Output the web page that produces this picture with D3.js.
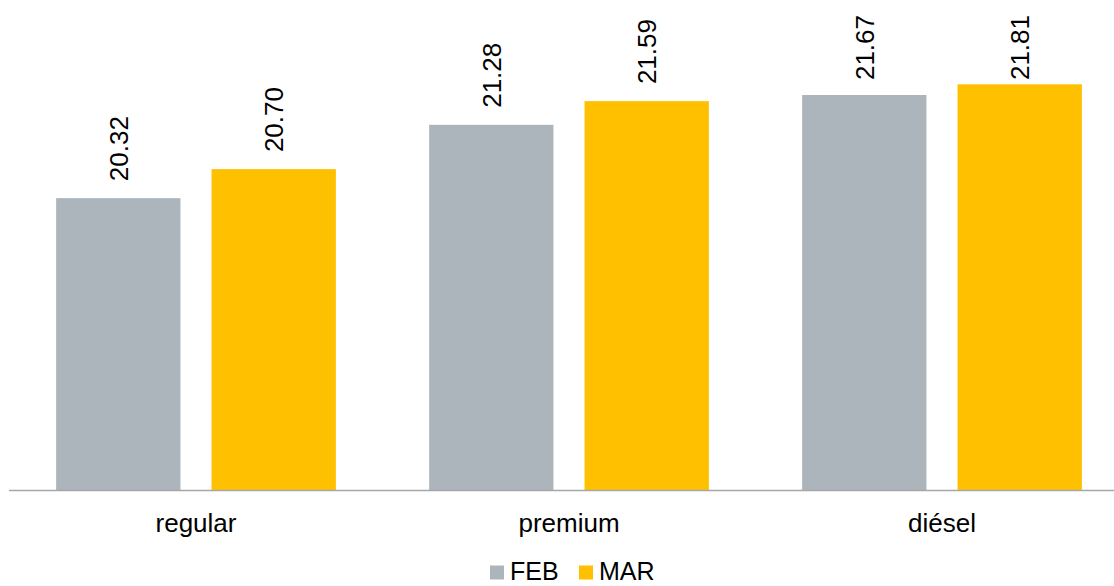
<!DOCTYPE html>
<html>
<head>
<meta charset="utf-8">
<script src="https://cdn.jsdelivr.net/npm/d3@7"></script>
<style>
  body { margin: 0; background: #fff; }
  svg { display: block; font-family: Arial, "Liberation Sans", sans-serif; }
</style>
</head>
<body>
<div id="chart"></div>
<script>
// datos
const categorias = ["regular", "premium", "diésel"];
const series = ["FEB", "MAR"];
const valoresFEB = [20.32, 21.28, 21.67];
const valoresMAR = [20.70, 21.59, 21.81];
const colores = ["#ADB5BC", "#FFC000"];

const width = 1114, height = 586;
const baseY = 490;

let svg = d3.select("#chart").append("svg")
  .attr("width", width)
  .attr("height", height);

//escalas
let x0 = d3.scaleBand().domain(categorias).range([9.5, 1128.5]).padding(0);
let x1 = d3.scaleBand().domain(series).range([0, x0.bandwidth()])
  .paddingInner(0.2).paddingOuter(0.3);
let y = d3.scaleLinear().domain([16.5, 22.5]).range([baseY, baseY - 6 * 76.4]);

let datos = [];
categorias.forEach((c, i) => {
  datos.push({ cat: c, serie: "FEB", valor: valoresFEB[i] });
  datos.push({ cat: c, serie: "MAR", valor: valoresMAR[i] });
});

//barras
svg.append("g").selectAll("rect").data(datos)
  .enter()
  .append("rect")
  .attr("x", d => x0(d.cat) + x1(d.serie))
  .attr("y", d => y(d.valor))
  .attr("width", x1.bandwidth())
  .attr("height", d => baseY - y(d.valor))
  .attr("fill", d => colores[series.indexOf(d.serie)]);

//eixo X (só a linha e os rótulos)
let eixo = svg.append("g")
  .attr("transform", `translate(0,${baseY})`)
  .call(d3.axisBottom(x0).tickSize(0).tickPadding(28));
eixo.select(".domain")
  .attr("d", `M9,0.5H${width}`)
  .attr("stroke", "#A6A6A6")
  .attr("stroke-width", 1.5);
eixo.selectAll("text")
  .attr("font-size", 26)
  .attr("font-family", "Arial, 'Liberation Sans', sans-serif")
  .attr("fill", "#000")
  .attr("dy", "0.55em");

//rótulos dos valores (rodados)
let rotulos = svg.append("g").selectAll("text").data(datos)
  .enter()
  .append("text")
  .text(d => d.valor.toFixed(2))
  .attr("font-size", 26)
  .attr("fill", "#000")
  .attr("dy", "0.36em");
rotulos.each(function(d) {
  let len = this.getComputedTextLength();
  let cx = x0(d.cat) + x1(d.serie) + x1.bandwidth() / 2;
  let yy = Math.max(y(d.valor) - 17, 15 + len);
  d3.select(this).attr("transform", `translate(${cx},${yy}) rotate(-90)`);
});

//legenda (um pouco acima da borda para não cortar o texto)
let legenda = svg.append("g");
let legX = [490, 579];
series.forEach((s, i) => {
  legenda.append("rect")
    .attr("x", legX[i])
    .attr("y", 565.5)
    .attr("width", 14)
    .attr("height", 14)
    .attr("fill", colores[i]);
  legenda.append("text")
    .text(s)
    .attr("x", legX[i] + 20)
    .attr("y", 580)
    .attr("font-size", 25)
    .attr("fill", "#000");
});
</script>
</body>
</html>
